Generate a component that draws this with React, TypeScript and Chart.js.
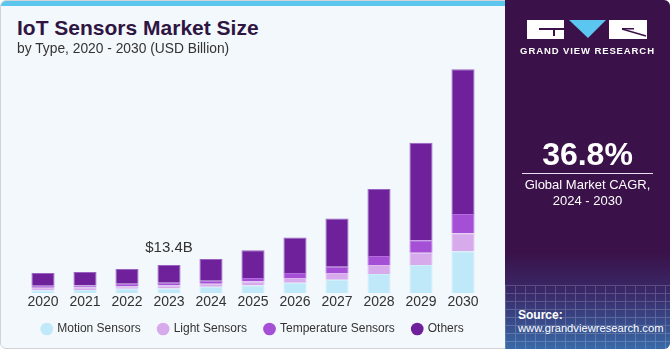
import React, { useEffect, useRef } from "react";
import { Chart, registerables } from "chart.js";

Chart.register(...registerables);

const years = ["2020", "2021", "2022", "2023", "2024", "2025", "2026", "2027", "2028", "2029", "2030"];
const motionSensors = [1.44, 1.58, 2.06, 2.25, 3.02, 3.69, 4.93, 6.37, 9.09, 13.4, 19.96];
const lightSensors = [1.1, 1.15, 1.15, 1.44, 1.44, 1.91, 2.25, 3.21, 4.31, 5.89, 8.61];
const temperatureSensors = [0.96, 0.96, 1.24, 1.29, 1.44, 1.58, 2.39, 3.02, 4.31, 5.93, 9.09];
const others = [6.08, 6.37, 7.04, 8.47, 10.39, 13.26, 16.9, 22.97, 31.92, 46.4, 68.9];
const seriesNames = ["Motion Sensors", "Light Sensors", "Temperature Sensors", "Others"];
const seriesColors = ["#bfe9f9", "#d7aaeb", "#a54fd7", "#6e219b"];
const seriesBorders = ["#cdeefa", "#dfbaef", "#b46ddd", "#9a63c2"];
const annotationYear = "2023";
const annotationText = "$13.4B";

const FONT = "'Liberation Sans', Arial, sans-serif";
const AXIS_OVERLAP = 7;

const annotationPlugin = {
  id: "annot",
  afterLayout(chart: any) {
    const x = chart.scales.x;
    if (x) {
      x.bottom += AXIS_OVERLAP;
      x.height += AXIS_OVERLAP;
    }
  },
  afterDatasetsDraw(chart: any) {
    const idx = chart.data.labels.indexOf(annotationYear);
    const meta = chart.getDatasetMeta(chart.data.datasets.length - 1);
    const bar = meta.data[idx];
    if (!bar) return;
    const ctx = chart.ctx;
    ctx.save();
    ctx.font = `15px ${FONT}`;
    ctx.fillStyle = "#333333";
    ctx.textAlign = "center";
    ctx.textBaseline = "alphabetic";
    ctx.fillText(annotationText, bar.x, bar.y - 13);
    ctx.restore();
  },
};

function ChartCanvas() {
  const ref = useRef<HTMLCanvasElement | null>(null);
  useEffect(() => {
    if (!ref.current) return;
    const data = [motionSensors, lightSensors, temperatureSensors, others];
    const chart = new Chart(ref.current, {
      type: "bar",
      data: {
        labels: years,
        datasets: seriesNames.map((name, i) => ({
          label: name,
          data: data[i],
          backgroundColor: seriesColors[i],
          borderColor: seriesBorders[i],
          borderWidth: 1,
          borderSkipped: "bottom",
          barPercentage: 0.55,
          categoryPercentage: 1,
        })),
      },
      options: {
        animation: false,
        responsive: false,
        maintainAspectRatio: false,
        layout: { padding: { left: 22, right: 21, top: 7, bottom: 0 } },
        scales: {
          x: {
            stacked: true,
            grid: { display: false, drawTicks: false, tickLength: 0 },
            border: { display: false },
            ticks: { color: "#333333", font: { family: FONT, size: 14 }, padding: 1 },
            afterFit: (scale: any) => {
              scale.height = scale.height - AXIS_OVERLAP;
            },
          },
          y: { stacked: true, display: false, min: 0, max: 110 },
        },
        plugins: {
          legend: {
            position: "bottom",
            labels: {
              usePointStyle: true,
              pointStyle: "circle",
              boxWidth: 9,
              boxHeight: 9,
              padding: 18,
              color: "#333333",
              font: { family: FONT, size: 12 },
              generateLabels: (c: any) =>
                Chart.defaults.plugins.legend.labels.generateLabels(c).map((l: any) => ({ ...l, strokeStyle: l.fillStyle, lineWidth: 0 })),
            },
          },
          tooltip: { enabled: false },
        },
      },
      plugins: [annotationPlugin],
    } as any);
    return () => chart.destroy();
  }, []);
  return <canvas ref={ref} width={505} height={290} style={{ position: "absolute", left: 0, top: 55, width: 505, height: 290 }} />;
}

function Logo() {
  return (
    <svg width={130} height={22} style={{ position: "absolute", left: 522, top: 19 }}>
      <rect x={5} y={1} width={37} height={19} fill="#ffffff" />
      <rect x={17} y={9} width={25} height={2} fill="#3a1148" />
      <rect x={31} y={11} width={2} height={6} fill="#3a1148" />
      <polygon points="47,1 84,1 66,19" fill="#5bc7f1" />
      <rect x={87} y={1} width={38} height={19} fill="#ffffff" />
      <line x1={100} y1={10} x2={124} y2={17} stroke="#3a1148" strokeWidth={1.5} />
      <rect x={100} y={9} width={12} height={1.5} fill="#3a1148" />
    </svg>
  );
}

export default function App() {
  useEffect(() => {
    document.body.style.margin = "0";
  }, []);
  return (
    <div style={{ position: "fixed", left: 0, top: 0, width: 670, height: 350, fontFamily: FONT, overflow: "hidden" }}>
      <div style={{ position: "absolute", left: 0, top: 0, width: 670, height: 349, background: "#f3f8fc", borderRadius: 6, border: "1px solid #d0d4d8", boxSizing: "border-box", overflow: "hidden" }}>
        <div style={{ position: "absolute", left: 0, top: 0, width: 510, height: 5, background: "#5dc6ef" }} />
      </div>
      <div style={{ position: "absolute", left: 17, top: 16, fontSize: 21, fontWeight: 900, color: "#2f1542", whiteSpace: "nowrap" }}>IoT Sensors Market Size</div>
      <div style={{ position: "absolute", left: 17, top: 41, fontSize: 13.8, color: "#333333", whiteSpace: "nowrap" }}>by Type, 2020 - 2030 (USD Billion)</div>
      <ChartCanvas />
      <div style={{ position: "absolute", left: 505, top: 0, width: 165, height: 349, borderRadius: "0 6px 6px 0", overflow: "hidden", background: "linear-gradient(180deg, #3a1148 0%, #3a1148 72%, #3a2a6a 84%, #3a6aa8 100%)" }}>
        <div style={{ position: "absolute", left: 0, top: 285, width: 165, height: 65, opacity: 0.18, backgroundImage: "repeating-linear-gradient(90deg, #ffffff 0 1px, transparent 1px 10px), repeating-linear-gradient(0deg, #ffffff 0 1px, transparent 1px 8px)" }} />
      </div>
      <Logo />
      <div style={{ position: "absolute", left: 505, top: 45, width: 165, textAlign: "center", fontSize: 9.5, fontWeight: 700, letterSpacing: 0.9, color: "#ffffff" }}>GRAND VIEW RESEARCH</div>
      <div style={{ position: "absolute", left: 505, top: 136, width: 165, textAlign: "center", fontSize: 32, fontWeight: 700, color: "#ffffff" }}>36.8%</div>
      <div style={{ position: "absolute", left: 522, top: 173, width: 131, height: 1, background: "#e8e0ee" }} />
      <div style={{ position: "absolute", left: 505, top: 177, width: 165, textAlign: "center", fontSize: 13, lineHeight: "16px", color: "#ffffff" }}>Global Market CAGR,<br />2024 - 2030</div>
      <div style={{ position: "absolute", left: 518, top: 308, fontSize: 12, fontWeight: 700, color: "#ffffff" }}>Source:</div>
      <div style={{ position: "absolute", left: 518, top: 322, fontSize: 11.2, color: "#ffffff", whiteSpace: "nowrap" }}>www.grandviewresearch.com</div>
    </div>
  );
}
